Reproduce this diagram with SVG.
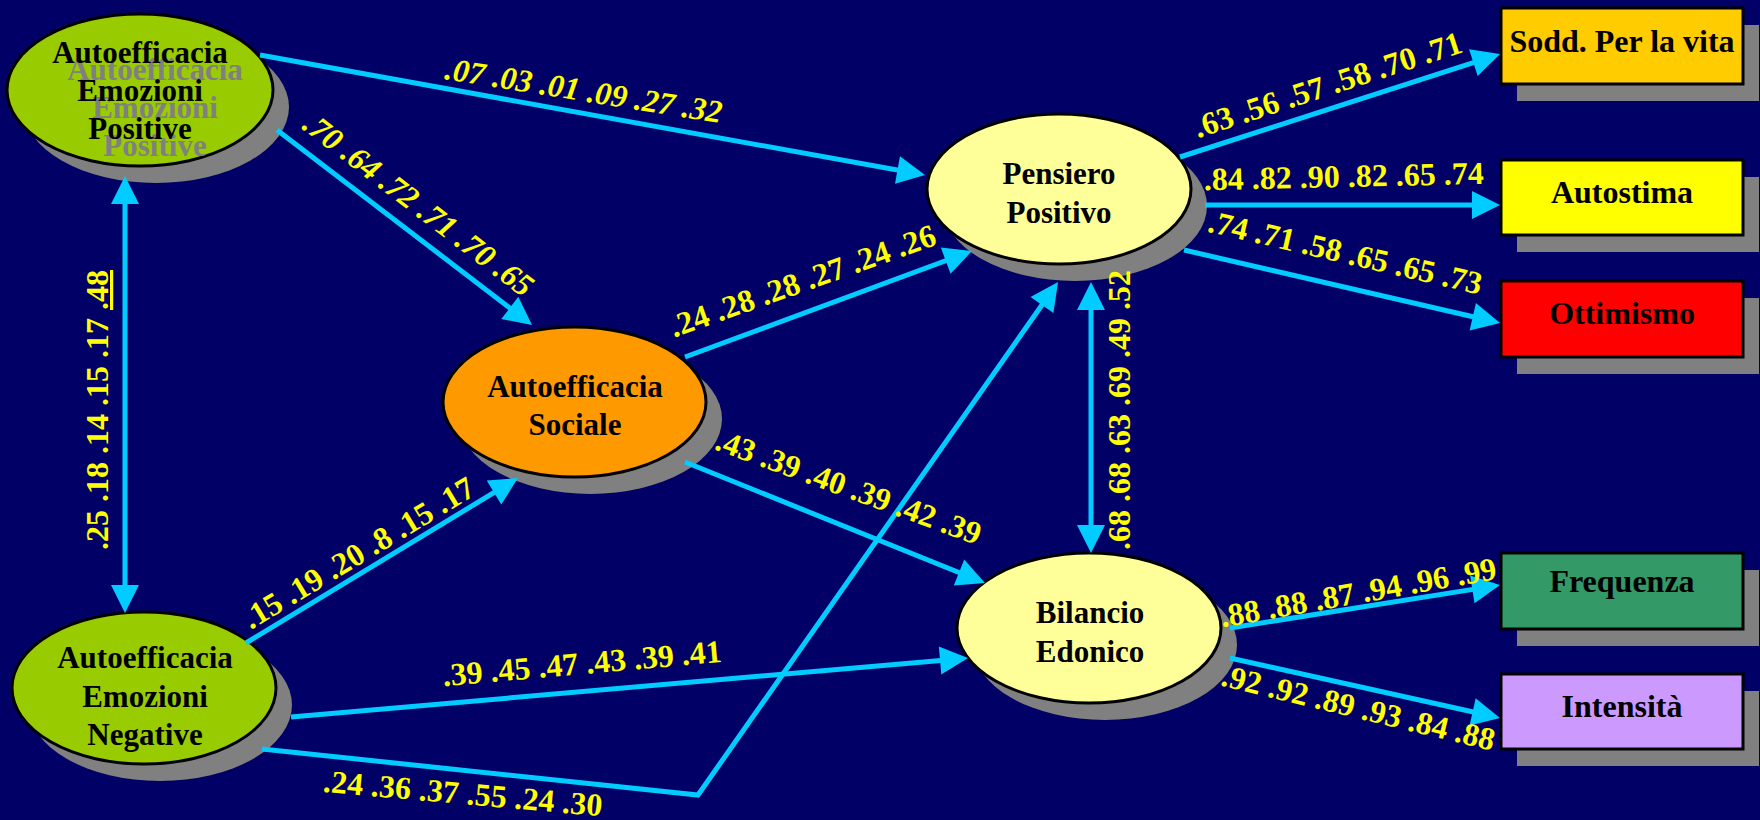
<svg xmlns="http://www.w3.org/2000/svg" width="1760" height="820" viewBox="0 0 1760 820">
<style>
.shadow{fill:#808080}
.node ellipse.body,.node rect.body{stroke:#000;stroke-width:3}
.t{font-family:"Liberation Serif","Times New Roman",serif;font-weight:bold;font-size:31px;text-anchor:middle;fill:#000}
.bt{font-size:32px}
.ghost{fill:#808080}
.edge{stroke:#00CCFF;stroke-width:5;fill:none}
.lbl{font-family:"Liberation Serif","Times New Roman",serif;font-weight:bold;font-size:32px;text-anchor:middle;fill:#FFFF00}
.it{font-style:italic}
</style>
<defs>
<marker id="ah" markerUnits="userSpaceOnUse" markerWidth="30" markerHeight="30" refX="18" refY="14" orient="auto-start-reverse" overflow="visible">
<path d="M0,0 L28,14 L0,28 Z" fill="#00CCFF"/>
</marker>
</defs>
<rect width="1760" height="820" fill="#000066"/>

<g id="node-aep" class="node">
<ellipse class="shadow" cx="156" cy="107" rx="133" ry="76"/>
<ellipse class="body" cx="140" cy="90" rx="133" ry="76" fill="#99CC00"/>
<text class="t ghost" x="155" y="80">Autoefficacia</text>
<text class="t ghost" x="155" y="118">Emozioni</text>
<text class="t ghost" x="155" y="156">Positive</text>
<text class="t" x="140" y="63">Autoefficacia</text>
<text class="t" x="140" y="101">Emozioni</text>
<text class="t" x="140" y="139">Positive</text>
</g>

<g id="node-aen" class="node">
<ellipse class="shadow" cx="160" cy="705" rx="132" ry="76"/>
<ellipse class="body" cx="144" cy="688" rx="132" ry="76" fill="#99CC00"/>
<text class="t" x="145" y="668">Autoefficacia</text>
<text class="t" x="145" y="707">Emozioni</text>
<text class="t" x="145" y="745">Negative</text>
</g>

<g id="node-as" class="node">
<ellipse class="shadow" cx="590.5" cy="419" rx="131.5" ry="75"/>
<ellipse class="body" cx="574.5" cy="402" rx="131.5" ry="75" fill="#FF9900"/>
<text class="t" x="575" y="397">Autoefficacia</text>
<text class="t" x="575" y="435">Sociale</text>
</g>

<g id="node-pp" class="node">
<ellipse class="shadow" cx="1075" cy="206" rx="132" ry="75"/>
<ellipse class="body" cx="1059" cy="189" rx="132" ry="75" fill="#FFFF99"/>
<text class="t" x="1059" y="184">Pensiero</text>
<text class="t" x="1059" y="223">Positivo</text>
</g>

<g id="node-be" class="node">
<ellipse class="shadow" cx="1105" cy="645" rx="132" ry="75"/>
<ellipse class="body" cx="1089" cy="628" rx="132" ry="75" fill="#FFFF99"/>
<text class="t" x="1090" y="623">Bilancio</text>
<text class="t" x="1090" y="662">Edonico</text>
</g>

<g id="node-sodd" class="node">
<rect class="shadow" x="1517" y="25" width="242" height="76"/>
<rect class="body" x="1501" y="8" width="242" height="76" fill="#FFCC00"/>
<text class="t bt" x="1622" y="52">Sodd. Per la vita</text>
</g>

<g id="node-autostima" class="node">
<rect class="shadow" x="1517" y="177" width="242" height="75"/>
<rect class="body" x="1501" y="160" width="242" height="75" fill="#FFFF00"/>
<text class="t bt" x="1622" y="203">Autostima</text>
</g>

<g id="node-ottimismo" class="node">
<rect class="shadow" x="1517" y="298" width="242" height="76"/>
<rect class="body" x="1501" y="281" width="242" height="76" fill="#FF0000"/>
<text class="t bt" x="1622" y="324">Ottimismo</text>
</g>

<g id="node-frequenza" class="node">
<rect class="shadow" x="1517" y="570" width="242" height="76"/>
<rect class="body" x="1501" y="553" width="242" height="76" fill="#339966"/>
<text class="t bt" x="1622" y="592">Frequenza</text>
</g>

<g id="node-intensita" class="node">
<rect class="shadow" x="1517" y="691" width="242" height="75"/>
<rect class="body" x="1501" y="674" width="242" height="75" fill="#CC99FF"/>
<text class="t bt" x="1622" y="717">Intensità</text>
</g>

<g id="connectors">
<line class="edge" x1="125" y1="186" x2="125" y2="603" marker-start="url(#ah)" marker-end="url(#ah)"/>
<line class="edge" x1="1091" y1="292" x2="1091" y2="543" marker-start="url(#ah)" marker-end="url(#ah)"/>
<line class="edge" x1="260" y1="55" x2="915.2" y2="173.2" marker-end="url(#ah)"/>
<line class="edge" x1="277" y1="130" x2="524.1" y2="318.9" marker-end="url(#ah)"/>
<line class="edge" x1="246" y1="643" x2="509.4" y2="483.2" marker-end="url(#ah)"/>
<line class="edge" x1="685" y1="357" x2="962.6" y2="254.5" marker-end="url(#ah)"/>
<line class="edge" x1="685" y1="462" x2="975.7" y2="579.3" marker-end="url(#ah)"/>
<line class="edge" x1="291" y1="717" x2="958" y2="658.9" marker-end="url(#ah)"/>
<polyline class="edge" points="262,749 698,795 1052.3,290.2" marker-end="url(#ah)"/>
<line class="edge" x1="1180" y1="157" x2="1490.5" y2="57.1" marker-end="url(#ah)"/>
<line class="edge" x1="1205" y1="205" x2="1490" y2="205" marker-end="url(#ah)"/>
<line class="edge" x1="1184" y1="250" x2="1490.3" y2="320.8" marker-end="url(#ah)"/>
<line class="edge" x1="1230" y1="628" x2="1490.1" y2="586.6" marker-end="url(#ah)"/>
<line class="edge" x1="1230" y1="658" x2="1490.2" y2="715.8" marker-end="url(#ah)"/>
</g>

<g id="labels">
<text class="lbl it" transform="translate(582,101) rotate(9)">.07 .03 .01 .09 .27 .32</text>
<text class="lbl it" transform="translate(412,213) rotate(37.4)">.70 .64 .72 .71 .70 .65</text>
<text class="lbl" transform="translate(108,410) rotate(-90)">.25 .18 .14 .15 .17 <tspan text-decoration="underline">.48</tspan></text>
<text class="lbl" transform="translate(364,562) rotate(-31)">.15 .19 .20 .8 .15 .17</text>
<text class="lbl" transform="translate(806,291) rotate(-19.5)">.24 .28 .28 .27 .24 .26</text>
<text class="lbl" transform="translate(845,497) rotate(20)">.43 .39 .40 .39 .42 .39</text>
<text class="lbl" transform="translate(583,674) rotate(-5)">.39 .45 .47 .43 .39 .41</text>
<text class="lbl" transform="translate(462,804) rotate(5)">.24 .36 .37 .55 .24 .30</text>
<text class="lbl" transform="translate(1331,95) rotate(-18)">.63 .56 .57 .58 .70 .71</text>
<text class="lbl" transform="translate(1344,187) rotate(-1.3)">.84 .82 .90 .82 .65 .74</text>
<text class="lbl" transform="translate(1343,263) rotate(13)">.74 .71 .58 .65 .65 .73</text>
<text class="lbl" transform="translate(1130,410) rotate(-90)">.68 .68 .63 .69 .49 .52</text>
<text class="lbl" transform="translate(1360,603) rotate(-10)">.88 .88 .87 .94 .96 .99</text>
<text class="lbl" transform="translate(1356,718) rotate(13.5)">.92 .92 .89 .93 .84 .88</text>
</g>
</svg>
